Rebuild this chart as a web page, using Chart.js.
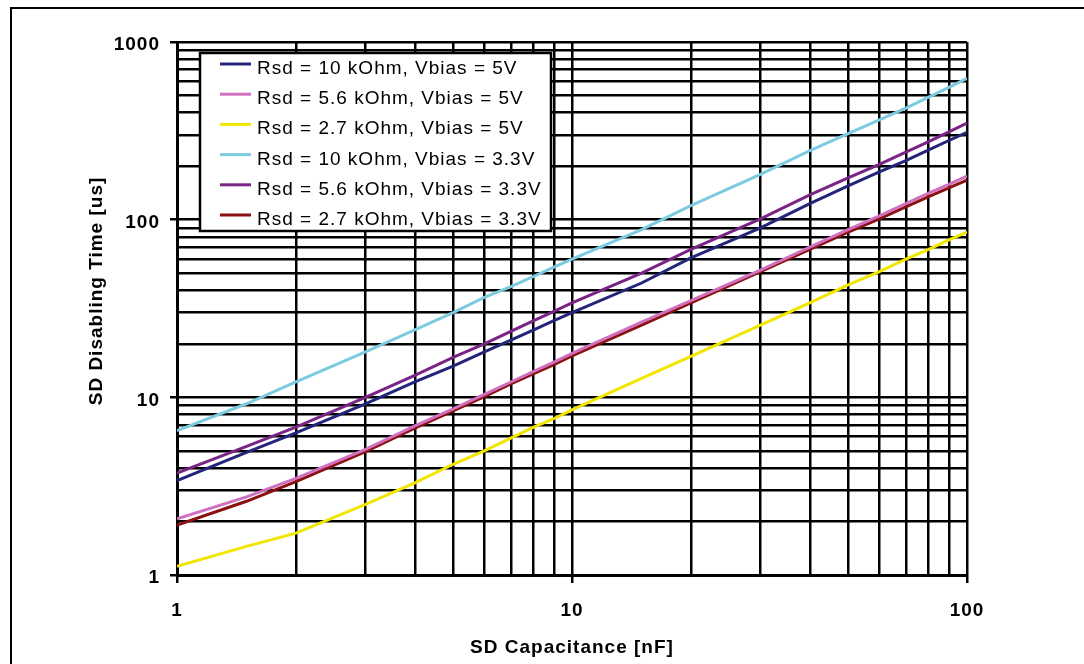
<!DOCTYPE html>
<html>
<head>
<meta charset="utf-8">
<script src="https://cdn.jsdelivr.net/npm/chart.js@4.4.1/dist/chart.umd.min.js"></script>
<style>
  body { margin: 0; background: #fff; }
  canvas { display: block; }
</style>
</head>
<body>
<canvas id="chart" width="1084" height="664"></canvas>
<script>
// SD capacitance [nF]
const capacitance = [1, 1.5, 2, 3, 4, 5, 6, 7, 8, 9, 10, 15, 20, 30, 40, 50, 60, 70, 80, 90, 100];

// disabling time [us]
const rsd10_5v   = [3.4, 4.9, 6.3, 9.2, 12.2, 15, 18, 21, 24, 27, 30, 44, 61, 90, 123, 155, 186, 215, 247, 279, 310];
const rsd56_5v   = [2.07, 2.75, 3.5, 5.1, 6.9, 8.6, 10.4, 12.2, 14, 15.8, 17.7, 26.5, 35, 52, 70, 88, 105, 123, 141, 158, 176];
const rsd27_5v   = [1.12, 1.45, 1.72, 2.5, 3.3, 4.2, 5.0, 5.9, 6.8, 7.6, 8.5, 12.8, 17, 25.5, 34, 43, 51, 60, 68, 77, 85];
const rsd10_33v  = [6.5, 9.2, 12.2, 18, 24, 30, 36.5, 42, 48, 54, 60, 88, 120, 180, 245, 305, 365, 425, 490, 555, 625];
const rsd56_33v  = [3.75, 5.3, 6.8, 10, 13.3, 16.8, 20, 23.5, 27, 30.5, 34, 50, 68, 101, 138, 172, 205, 240, 275, 312, 350];
const rsd27_33v  = [1.91, 2.6, 3.35, 4.95, 6.7, 8.4, 10.1, 11.9, 13.6, 15.3, 17.1, 25.5, 34, 51, 68, 85, 101, 118, 135, 151, 167];

const seriesNames = [
  'Rsd = 10 kOhm, Vbias = 5V',
  'Rsd = 5.6 kOhm, Vbias = 5V',
  'Rsd = 2.7 kOhm, Vbias = 5V',
  'Rsd = 10 kOhm, Vbias = 3.3V',
  'Rsd = 5.6 kOhm, Vbias = 3.3V',
  'Rsd = 2.7 kOhm, Vbias = 3.3V'
];
const seriesColors = ['#24247a', '#d070c0', '#f2e600', '#7ccbe0', '#7a2485', '#8b1010'];

const xTicks = [1, 2, 3, 4, 5, 6, 7, 8, 9, 10, 20, 30, 40, 50, 60, 70, 80, 90, 100];
const yTicks = [1, 2, 3, 4, 5, 6, 7, 8, 9, 10, 20, 30, 40, 50, 60, 70, 80, 90, 100,
                200, 300, 400, 500, 600, 700, 800, 900, 1000];
const xTickLabels = ['1', '10', '100'];
const yTickLabels = ['1', '10', '100', '1000'];

const xTitle = 'SD Capacitance [nF]';
const yTitle = 'SD Disabling Time [us]';

const FONT = '"Liberation Sans", Arial, sans-serif';

const allSeries = [rsd10_5v, rsd56_5v, rsd27_5v, rsd10_33v, rsd56_33v, rsd27_33v];
const datasets = allSeries.map((vals, i) => ({
  label: seriesNames[i],
  data: capacitance.map((c, j) => ({ x: c, y: vals[j] })),
  borderColor: seriesColors[i],
  borderWidth: 3,
  pointRadius: 0,
  tension: 0
}));

// frame, letter spacing, titles and the boxed legend
const extras = {
  id: 'extras',
  beforeDraw(chart) {
    const ctx = chart.ctx;
    ctx.letterSpacing = '1px';
    ctx.save();
    ctx.fillStyle = '#000';
    ctx.fillRect(10, 7, 1074, 2);
    ctx.fillRect(10, 7, 2, 657);
    ctx.restore();
  },
  afterDraw(chart) {
    const ctx = chart.ctx;
    ctx.save();
    ctx.letterSpacing = '1px';
    ctx.fillStyle = '#000';
    ctx.font = 'bold 19px ' + FONT;
    ctx.textAlign = 'center';
    ctx.textBaseline = 'middle';
    ctx.fillText(xTitle, 572, 648);
    ctx.save();
    ctx.translate(97, 291);
    ctx.rotate(-Math.PI / 2);
    ctx.fillText(yTitle, 0, 0);
    ctx.restore();

    // legend box
    ctx.fillStyle = '#fff';
    ctx.fillRect(200, 53, 351, 178);
    ctx.strokeStyle = '#000';
    ctx.lineWidth = 2.5;
    ctx.strokeRect(200, 53, 351, 178);
    ctx.font = '19px ' + FONT;
    ctx.textAlign = 'left';
    ctx.textBaseline = 'alphabetic';
    chart.data.datasets.forEach((ds, i) => {
      const y = 64 + i * 30.2;
      ctx.strokeStyle = ds.borderColor;
      ctx.lineWidth = 3;
      ctx.beginPath();
      ctx.moveTo(220, y);
      ctx.lineTo(251, y);
      ctx.stroke();
      ctx.fillStyle = '#000';
      ctx.fillText(ds.label, 257, y + 10);
    });
    ctx.restore();
  }
};

new Chart(document.getElementById('chart'), {
  type: 'line',
  data: { datasets },
  plugins: [extras],
  options: {
    responsive: false,
    animation: false,
    layout: { padding: { top: 42, right: 117, left: 0, bottom: 0 } },
    plugins: { legend: { display: false }, tooltip: { enabled: false } },
    scales: {
      x: {
        type: 'logarithmic',
        min: 1,
        max: 100,
        afterBuildTicks: s => { s.ticks = xTicks.map(v => ({ value: v })); },
        afterFit: s => { s.height = 89; },
        grid: {
          color: '#000',
          lineWidth: 2.5,
          tickLength: 8,
          tickColor: c => xTickLabels.includes(String(c.tick && c.tick.value)) ? '#000' : 'rgba(0,0,0,0)'
        },
        border: { color: '#000', width: 3 },
        ticks: {
          autoSkip: false,
          maxRotation: 0,
          padding: 16,
          color: '#000',
          font: { family: FONT, size: 19, weight: 'bold' },
          callback: v => xTickLabels.includes(String(v)) ? String(v) : ''
        }
      },
      y: {
        type: 'logarithmic',
        min: 1,
        max: 1000,
        afterBuildTicks: s => { s.ticks = yTicks.map(v => ({ value: v })); },
        afterFit: s => { s.width = 177; },
        grid: {
          color: '#000',
          lineWidth: 2.5,
          tickLength: 7,
          tickColor: c => yTickLabels.includes(String(c.tick && c.tick.value)) ? '#000' : 'rgba(0,0,0,0)'
        },
        border: { color: '#000', width: 3 },
        ticks: {
          autoSkip: false,
          padding: 10,
          labelOffset: 3,
          color: '#000',
          font: { family: FONT, size: 19, weight: 'bold' },
          callback: v => yTickLabels.includes(String(v)) ? String(v) : ''
        }
      }
    }
  }
});
</script>
</body>
</html>
